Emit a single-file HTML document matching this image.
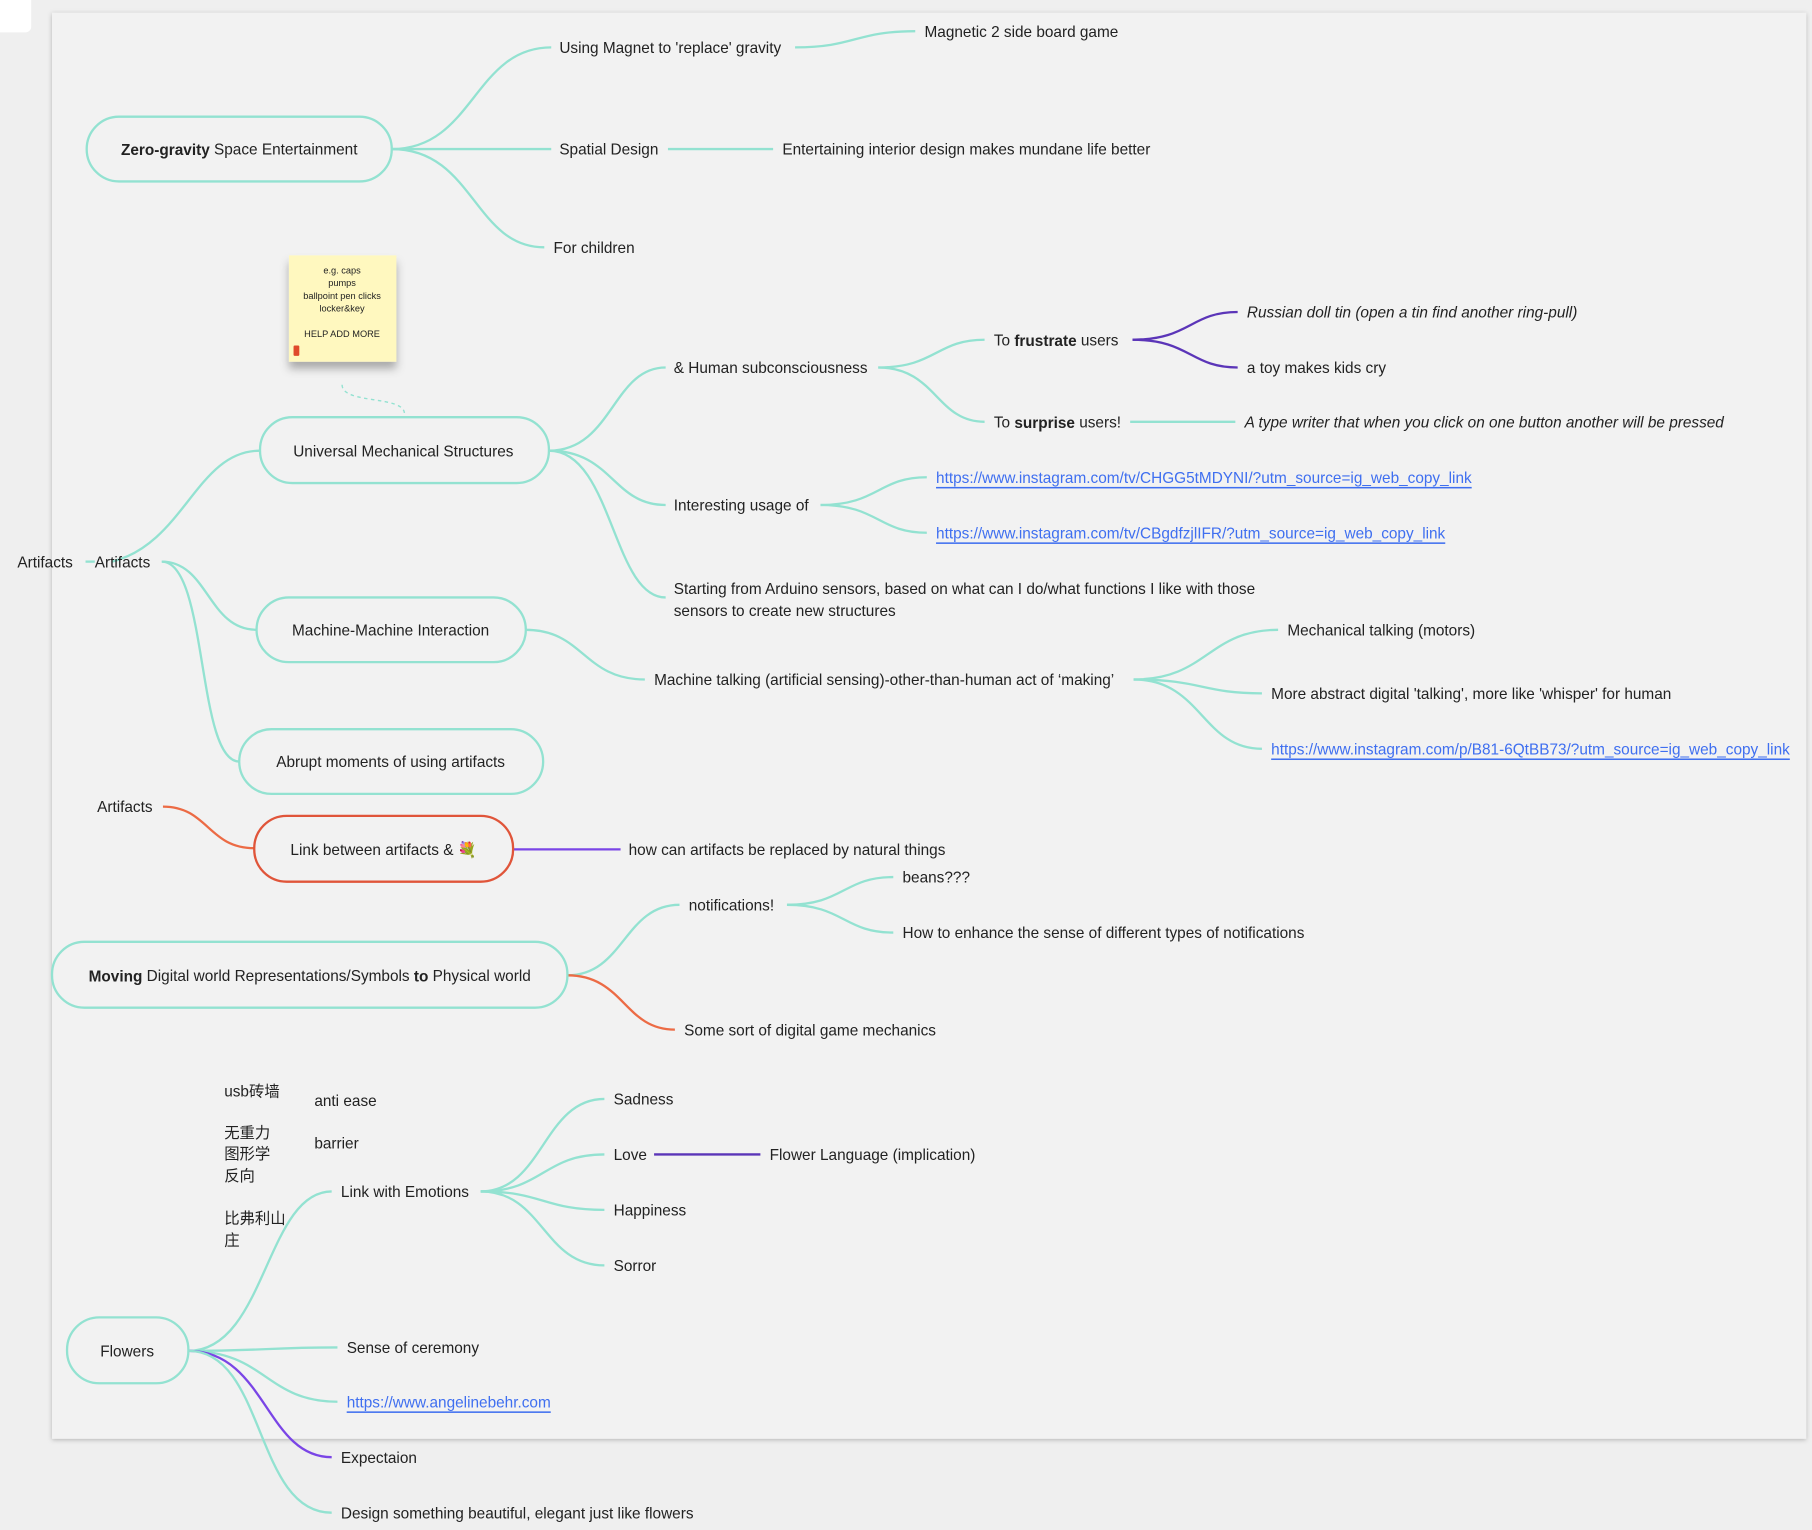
<!DOCTYPE html>
<html><head><meta charset="utf-8"><style>
html,body{margin:0;padding:0;background:#eeeeee;}
svg{display:block;}
text{font-family:"Liberation Sans","Noto Sans CJK SC",sans-serif;font-size:13.3px;fill:#222;dominant-baseline:central;transform:translate(0px,1px);}
.c{text-anchor:middle;}
.l{fill:#3f6ff0;text-decoration:underline;}
.i{font-style:italic;}
.t{fill:none;stroke:#93e2d1;stroke-width:2;}
.p{fill:none;stroke:#5b35b8;stroke-width:2;}
.o{fill:none;stroke:#ec6b45;stroke-width:2;}
.n{fill:#f2f2f2;stroke:#93e2d1;stroke-width:2;}
</style></head><body>
<svg width="1812" height="1530" viewBox="0 0 1568 1324" xmlns="http://www.w3.org/2000/svg">
<defs><filter id="sh" x="-5%" y="-5%" width="110%" height="110%"><feDropShadow dx="0" dy="1" stdDeviation="2" flood-color="#000" flood-opacity="0.25"/></filter>
<filter id="sh2" x="-30%" y="-30%" width="160%" height="160%"><feDropShadow dx="0" dy="6" stdDeviation="4" flood-color="#000" flood-opacity="0.3"/></filter></defs>
<rect x="0" y="0" width="1568" height="1324" fill="#efefef"/>
<rect x="-6" y="-6" width="33" height="34" rx="5" fill="#fff"/>
<rect x="45" y="11" width="1518" height="1234" fill="#f2f2f2" filter="url(#sh)"/>

<path class="t" d="M339 129 C410 129,410 41,477 41"/>
<path class="t" d="M339 129 L477 129"/>
<path class="t" d="M339 129 C410 129,410 214,471 214"/>
<path class="t" d="M688 41 C740 41,740 27,792 27"/>
<path class="t" d="M578 129 L669 129"/>

<path d="M296 333 C296 350,350 342,350 358" fill="none" stroke="#93e2d1" stroke-width="1.2" stroke-dasharray="3,3"/>

<path class="t" d="M74 486 L82 486"/>
<path class="t" d="M97 486 C160 470,170 390,225 390"/>
<path class="t" d="M140 486 C180 486,180 545,222 545"/>
<path class="t" d="M140 486 C180 486,170 659,207 659"/>

<path class="t" d="M475 390 C530 390,530 318,576 318"/>
<path class="t" d="M475 390 C530 390,530 437,576 437"/>
<path class="t" d="M475 390 C530 390,530 517,576 517"/>
<path class="t" d="M760 318 C810 318,810 294,852 294"/>
<path class="t" d="M760 318 C810 318,810 365,852 365"/>
<path class="p" d="M980 294 C1030 294,1030 270,1071 270"/>
<path class="p" d="M980 294 C1030 294,1030 318,1071 318"/>
<path class="t" d="M978 365 L1069 365"/>
<path class="t" d="M710 437 C760 437,760 413,802 413"/>
<path class="t" d="M710 437 C760 437,760 461,802 461"/>

<path class="t" d="M455 545 C505 545,505 588,558 588"/>
<path class="t" d="M981 588 C1045 588,1045 545,1106 545"/>
<path class="t" d="M981 588 C1040 588,1040 600,1092 600"/>
<path class="t" d="M981 588 C1040 588,1040 648,1092 648"/>

<path class="o" d="M141 698 C180 698,180 734,220 734"/>
<path d="M444 735 L537 735" fill="none" stroke="#7a45e6" stroke-width="2"/>

<path class="t" d="M491 844 C540 844,540 783,588 783"/>
<path class="o" d="M491 844 C540 844,540 891,584 891"/>
<path class="t" d="M681 783 C730 783,730 759,773 759"/>
<path class="t" d="M681 783 C730 783,730 807,773 807"/>

<path class="t" d="M163 1169 C230 1169,230 1031,287 1031"/>
<path class="t" d="M163 1169 C230 1169,230 1166,292 1166"/>
<path class="t" d="M163 1169 C230 1169,230 1213,292 1213"/>
<path d="M163 1169 C230 1169,230 1261,287 1261" fill="none" stroke="#7a45e6" stroke-width="2"/>
<path class="t" d="M163 1169 C230 1169,220 1309,287 1309"/>
<path class="t" d="M416 1031 C470 1031,470 951,523 951"/>
<path class="t" d="M416 1031 C470 1031,470 999,523 999"/>
<path class="t" d="M416 1031 C470 1031,470 1047,523 1047"/>
<path class="t" d="M416 1031 C470 1031,470 1095,523 1095"/>
<path class="p" d="M566 999 L658 999"/>

<rect class="n" x="75" y="101" width="264" height="56" rx="28"/>
<text class="c" x="207" y="129"><tspan font-weight="bold">Zero-gravity</tspan> Space Entertainment</text>
<rect class="n" x="225" y="361" width="250" height="57" rx="28"/>
<text class="c" x="349" y="390">Universal Mechanical Structures</text>
<rect class="n" x="222" y="517" width="233" height="56" rx="28"/>
<text class="c" x="338" y="545">Machine-Machine Interaction</text>
<rect class="n" x="207" y="631" width="263" height="56" rx="28"/>
<text class="c" x="338" y="659">Abrupt moments of using artifacts</text>
<rect x="220" y="706" width="224" height="57" rx="28" fill="#f2f2f2" stroke="#e0553a" stroke-width="2"/>
<text class="c" x="332" y="735">Link between artifacts &amp; 💐</text>
<rect class="n" x="45" y="815" width="446" height="57" rx="28"/>
<text class="c" x="268" y="844"><tspan font-weight="bold">Moving</tspan> Digital world Representations/Symbols <tspan font-weight="bold">to</tspan> Physical world</text>
<rect class="n" x="58" y="1140" width="105" height="57" rx="28"/>
<text class="c" x="110" y="1169">Flowers</text>

<rect x="250" y="221" width="93" height="92" fill="#fff8bf" filter="url(#sh2)"/>
<text class="c" x="296" y="233" style="font-size:8px">e.g. caps</text>
<text class="c" x="296" y="244" style="font-size:8px">pumps</text>
<text class="c" x="296" y="255" style="font-size:8px">ballpoint pen clicks</text>
<text class="c" x="296" y="266" style="font-size:8px">locker&amp;key</text>
<text class="c" x="296" y="288" style="font-size:8px">HELP ADD MORE</text>
<rect x="254" y="299" width="5" height="9" rx="1" fill="#e04a2a"/>

<text x="484" y="41">Using Magnet to 'replace' gravity</text>
<text x="800" y="27">Magnetic 2 side board game</text>
<text x="484" y="129">Spatial Design</text>
<text x="677" y="129">Entertaining interior design makes mundane life better</text>
<text x="479" y="214">For children</text>

<text x="15" y="486">Artifacts</text>
<text x="82" y="486">Artifacts</text>
<text x="583" y="318">&amp; Human subconsciousness</text>
<text x="860" y="294">To <tspan font-weight="bold">frustrate</tspan> users</text>
<text x="860" y="365">To <tspan font-weight="bold">surprise</tspan> users!</text>
<text class="i" x="1079" y="270">Russian doll tin (open a tin find another ring-pull)</text>
<text x="1079" y="318">a toy makes kids cry</text>
<text class="i" x="1077" y="365">A type writer that when you click on one button another will be pressed</text>
<text x="583" y="437">Interesting usage of</text>
<text class="l" x="810" y="413">https://www.instagram.com/tv/CHGG5tMDYNI/?utm_source=ig_web_copy_link</text>
<text class="l" x="810" y="461">https://www.instagram.com/tv/CBgdfzjlIFR/?utm_source=ig_web_copy_link</text>
<text x="583" y="509">Starting from Arduino sensors, based on what can I do/what functions I like with those</text>
<text x="583" y="528">sensors to create new structures</text>

<text x="566" y="588">Machine talking (artificial sensing)-other-than-human act of ‘making’</text>
<text x="1114" y="545">Mechanical talking (motors)</text>
<text x="1100" y="600">More abstract digital 'talking', more like 'whisper' for human</text>
<text class="l" x="1100" y="648">https://www.instagram.com/p/B81-6QtBB73/?utm_source=ig_web_copy_link</text>

<text x="84" y="698">Artifacts</text>
<text x="544" y="735">how can artifacts be replaced by natural things</text>
<text x="596" y="783">notifications!</text>
<text x="781" y="759">beans???</text>
<text x="781" y="807">How to enhance the sense of different types of notifications</text>
<text x="592" y="891">Some sort of digital game mechanics</text>

<text x="194" y="944">usb砖墙</text>
<text x="272" y="952">anti ease</text>
<text x="194" y="980">无重力</text>
<text x="194" y="998">图形学</text>
<text x="194" y="1017">反向</text>
<text x="272" y="989">barrier</text>
<text x="194" y="1054">比弗利山</text>
<text x="194" y="1073">庄</text>
<text x="295" y="1031">Link with Emotions</text>
<text x="531" y="951">Sadness</text>
<text x="531" y="999">Love</text>
<text x="666" y="999">Flower Language (implication)</text>
<text x="531" y="1047">Happiness</text>
<text x="531" y="1095">Sorror</text>
<text x="300" y="1166">Sense of ceremony</text>
<text class="l" x="300" y="1213">https://www.angelinebehr.com</text>
<text x="295" y="1261">Expectaion</text>
<text x="295" y="1309">Design something beautiful, elegant just like flowers</text>
</svg>
</body></html>
